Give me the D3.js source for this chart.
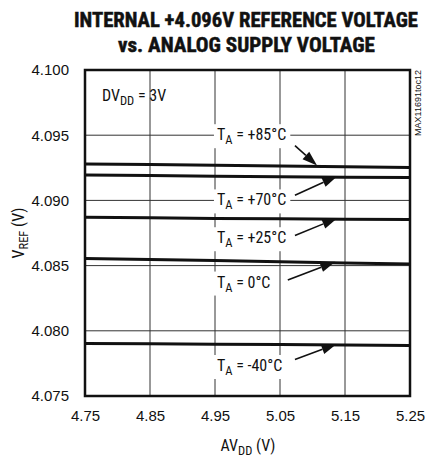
<!DOCTYPE html>
<html lang="en">
<head>
<meta charset="UTF-8">
<title>VREF vs AVDD</title>
<script src="https://d3js.org/d3.v7.min.js"></script>
<style>
  body { margin: 0; background: #fff; }
  text { font-family: "Liberation Sans Narrow", "Roboto Condensed", "DejaVu Sans Condensed", sans-serif; fill: #111; }
</style>
</head>
<body>
<div id="chart"></div>
<script>
const width = 425, height = 458;

// supply voltage (V) on x
const avdd = [4.75, 4.85, 4.95, 5.05, 5.15, 5.25];
const xTicks = [4.75, 4.85, 4.95, 5.05, 5.15, 5.25];
const yTicks = [4.075, 4.080, 4.085, 4.090, 4.095, 4.100];

// VREF readings per temperature
const vref85  = [4.09280, 4.09275, 4.09270, 4.09264, 4.09258, 4.09252];
const vref70  = [4.09195, 4.09190, 4.09186, 4.09182, 4.09178, 4.09175];
const vref25  = [4.08870, 4.08866, 4.08862, 4.08859, 4.08856, 4.08853];
const vref0   = [4.08555, 4.08547, 4.08540, 4.08530, 4.08520, 4.08512];
const vrefM40 = [4.07903, 4.07900, 4.07897, 4.07894, 4.07891, 4.07888];
const series = [vref85, vref70, vref25, vref0, vrefM40];

// temperature labels with their anchor (data units) and arrow start / tip x
const tempLabels = ["+85°C", "+70°C", "+25°C", "0°C", "-40°C"];
const labelY  = [4.0950, 4.0900, 4.0871, 4.0837, 4.0773];
const arrowY0 = [4.0942, 4.0904, 4.0873, 4.0839, 4.0778];
const arrowX0 = [5.073, 5.073, 5.073, 5.062, 5.073];
const arrowX1 = [5.107, 5.138, 5.138, 5.135, 5.137];
const labelX = 4.953;

const margin = { top: 70, right: 15, bottom: 62, left: 85 };

const x = d3.scaleLinear().domain([4.75, 5.25]).range([margin.left, width - margin.right]);
const y = d3.scaleLinear().domain([4.075, 4.100]).range([height - margin.bottom, margin.top]);

const svg = d3.select("#chart").append("svg")
  .attr("width", width).attr("height", height);

// title
svg.append("text").attr("x", 246).attr("y", 27).attr("text-anchor", "middle")
  .attr("textLength", 344).attr("lengthAdjust", "spacingAndGlyphs")
  .style("font-size", "21px").style("font-weight", "bold")
  .attr("stroke", "#111").attr("stroke-width", 0.5)
  .text("INTERNAL +4.096V REFERENCE VOLTAGE");
svg.append("text").attr("x", 246.5).attr("y", 52).attr("text-anchor", "middle")
  .attr("textLength", 257).attr("lengthAdjust", "spacingAndGlyphs")
  .style("font-size", "21px").style("font-weight", "bold")
  .attr("stroke", "#111").attr("stroke-width", 0.5)
  .text("vs. ANALOG SUPPLY VOLTAGE");

// grid
const grid = svg.append("g").attr("stroke", "#333").attr("stroke-width", 1);
grid.selectAll("line.v").data(xTicks.slice(1, -1)).enter().append("line")
  .attr("x1", d => x(d)).attr("x2", d => x(d))
  .attr("y1", y(4.100)).attr("y2", y(4.075));
grid.selectAll("line.h").data(yTicks.slice(1, -1)).enter().append("line")
  .attr("x1", x(4.75)).attr("x2", x(5.25))
  .attr("y1", d => y(d)).attr("y2", d => y(d));

// axes tick labels
const xAxis = d3.axisBottom(x).tickValues(xTicks).tickSize(0).tickPadding(14)
  .tickFormat(d3.format(".2f"));
svg.append("g").attr("transform", `translate(0,${y(4.075)})`).call(xAxis)
  .call(g => g.select(".domain").remove())
  .selectAll("text").style("font-size", "15px").attr("fill", "#111")
  .style("font-family", "'Liberation Sans Narrow', sans-serif");

const yAxis = d3.axisLeft(y).tickValues(yTicks).tickSize(0).tickPadding(16)
  .tickFormat(d3.format(".3f"));
svg.append("g").attr("transform", `translate(${x(4.75)},0)`).call(yAxis)
  .call(g => g.select(".domain").remove())
  .selectAll("text").style("font-size", "15px").attr("fill", "#111")
  .style("font-family", "'Liberation Sans Narrow', sans-serif");

// data lines
const line = d3.line().x((d, i) => x(avdd[i])).y(d => y(d));
svg.append("g").selectAll("path.curve").data(series).enter().append("path")
  .attr("class", "curve")
  .attr("d", line)
  .attr("fill", "none").attr("stroke", "#111").attr("stroke-width", 3);

// labels with white knockout
function interp(s, v) {
  const i = Math.min(avdd.length - 2, d3.bisectRight(avdd, v) - 1);
  const t = (v - avdd[i]) / (avdd[i + 1] - avdd[i]);
  return s[i] + t * (s[i + 1] - s[i]);
}

const labels = svg.append("g");
tempLabels.forEach((lab, k) => {
  const g = labels.append("g");
  const txt = g.append("text")
    .attr("x", x(labelX)).attr("y", y(labelY[k]) + 5)
    .style("font-size", "16px");
  txt.append("tspan").text("T");
  txt.append("tspan").attr("dy", 4).style("font-size", "12.5px").text("A");
  txt.append("tspan").attr("dy", -4).text(" = " + lab);
  const bb = txt.node().getBBox();
  g.insert("rect", "text")
    .attr("x", bb.x - 3).attr("y", bb.y - 1)
    .attr("width", bb.width + 7).attr("height", bb.height + 2)
    .attr("fill", "#fff");

  // arrow
  const x0 = x(arrowX0[k]), y0 = y(arrowY0[k]);
  const x1 = x(arrowX1[k]), y1 = y(interp(series[k], arrowX1[k])) - 1;
  const ang = Math.atan2(y1 - y0, x1 - x0);
  const len = 15, half = 5;
  const bx = x1 - len * Math.cos(ang), by = y1 - len * Math.sin(ang);
  g.append("line").attr("x1", x0).attr("y1", y0).attr("x2", bx).attr("y2", by)
    .attr("stroke", "#111").attr("stroke-width", 1.6);
  g.append("path")
    .attr("d", `M${x1},${y1}L${bx + half * Math.sin(ang)},${by - half * Math.cos(ang)}L${bx - half * Math.sin(ang)},${by + half * Math.cos(ang)}Z`)
    .attr("fill", "#111");
});

// DVDD note
const note = svg.append("text").attr("x", 102).attr("y", 101).style("font-size", "16px");
note.append("tspan").text("DV");
note.append("tspan").attr("dy", 4).style("font-size", "12.5px").text("DD");
note.append("tspan").attr("dy", -4).text(" = 3V");

// frame
svg.append("rect")
  .attr("x", x(4.75)).attr("y", y(4.100))
  .attr("width", x(5.25) - x(4.75)).attr("height", y(4.075) - y(4.100))
  .attr("fill", "none").attr("stroke", "#111").attr("stroke-width", 2.5);

// axis titles
const xt = svg.append("text").attr("x", 248).attr("y", 451).attr("text-anchor", "middle")
  .style("font-size", "16px");
xt.append("tspan").text("AV");
xt.append("tspan").attr("dy", 4).style("font-size", "12.5px").text("DD");
xt.append("tspan").attr("dy", -4).text(" (V)");

const yt = svg.append("text").attr("transform", "translate(24,233) rotate(-90)")
  .attr("text-anchor", "middle").style("font-size", "16px");
yt.append("tspan").text("V");
yt.append("tspan").attr("dy", 4).style("font-size", "12.5px").text("REF");
yt.append("tspan").attr("dy", -4).text(" (V)");

// figure code
svg.append("text").attr("transform", "translate(421,70) rotate(-90)")
  .attr("text-anchor", "end").style("font-size", "9px").attr("fill", "#444")
  .style("font-family", "'Liberation Sans Narrow', sans-serif")
  .text("MAX11691toc12");
</script>
</body>
</html>
